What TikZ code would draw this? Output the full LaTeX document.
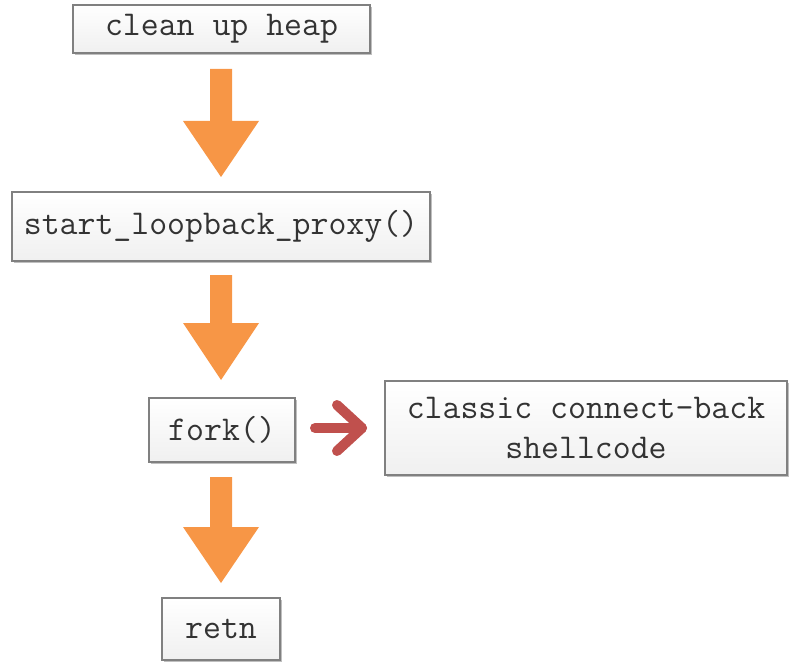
\documentclass[tikz,border=0pt]{standalone}
\usetikzlibrary{shadows}
\definecolor{arroworange}{HTML}{F79646}
\definecolor{arrowred}{HTML}{C0504D}
\definecolor{boxborder}{HTML}{808080}
\begin{document}
\begin{tikzpicture}[x=1pt,y=-1pt,
  box/.style={draw=boxborder, line width=1.3pt, top color=white, bottom color=black!6,
    drop shadow={shadow xshift=2pt, shadow yshift=-2pt, opacity=0.25, fill=black},
    inner sep=0pt, align=center, font=\fontsize{34.8}{40}\selectfont\ttfamily, text=black!80},
  barrow/.style={fill=arroworange, draw=none}
]
\useasboundingbox (0,0) rectangle (789,663);
\node[box, minimum width=297pt, minimum height=48pt] (heap) at (221.5,29) {clean up heap};
\node[box, minimum width=418pt, minimum height=69pt] (proxy) at (221,226.5) {start\_loopback\_proxy()};
\node[box, minimum width=146pt, minimum height=64pt] (fork) at (222,430) {fork()};
\node[box, minimum width=402pt, minimum height=94pt] (shell) at (586,428) {classic connect-back\\shellcode};
\node[box, minimum width=118pt, minimum height=62pt] (retn) at (221,629) {retn};
% orange block arrows
\fill[barrow] (210,69) -- (232,69) -- (232,121) -- (259,121) -- (221,177) -- (183,121) -- (210,121) -- cycle;
\fill[barrow] (210,275) -- (232,275) -- (232,323) -- (259,323) -- (221,380) -- (183,323) -- (210,323) -- cycle;
\fill[barrow] (210,477) -- (232,477) -- (232,527) -- (259,527) -- (221,583) -- (183,527) -- (210,527) -- cycle;
% red arrow
\draw[arrowred, line width=10pt, line cap=round] (315,428) -- (362,428);
\draw[arrowred, line width=10pt, line cap=round, line join=round] (337,405) -- (362,428) -- (337,451);
\end{tikzpicture}
\end{document}
